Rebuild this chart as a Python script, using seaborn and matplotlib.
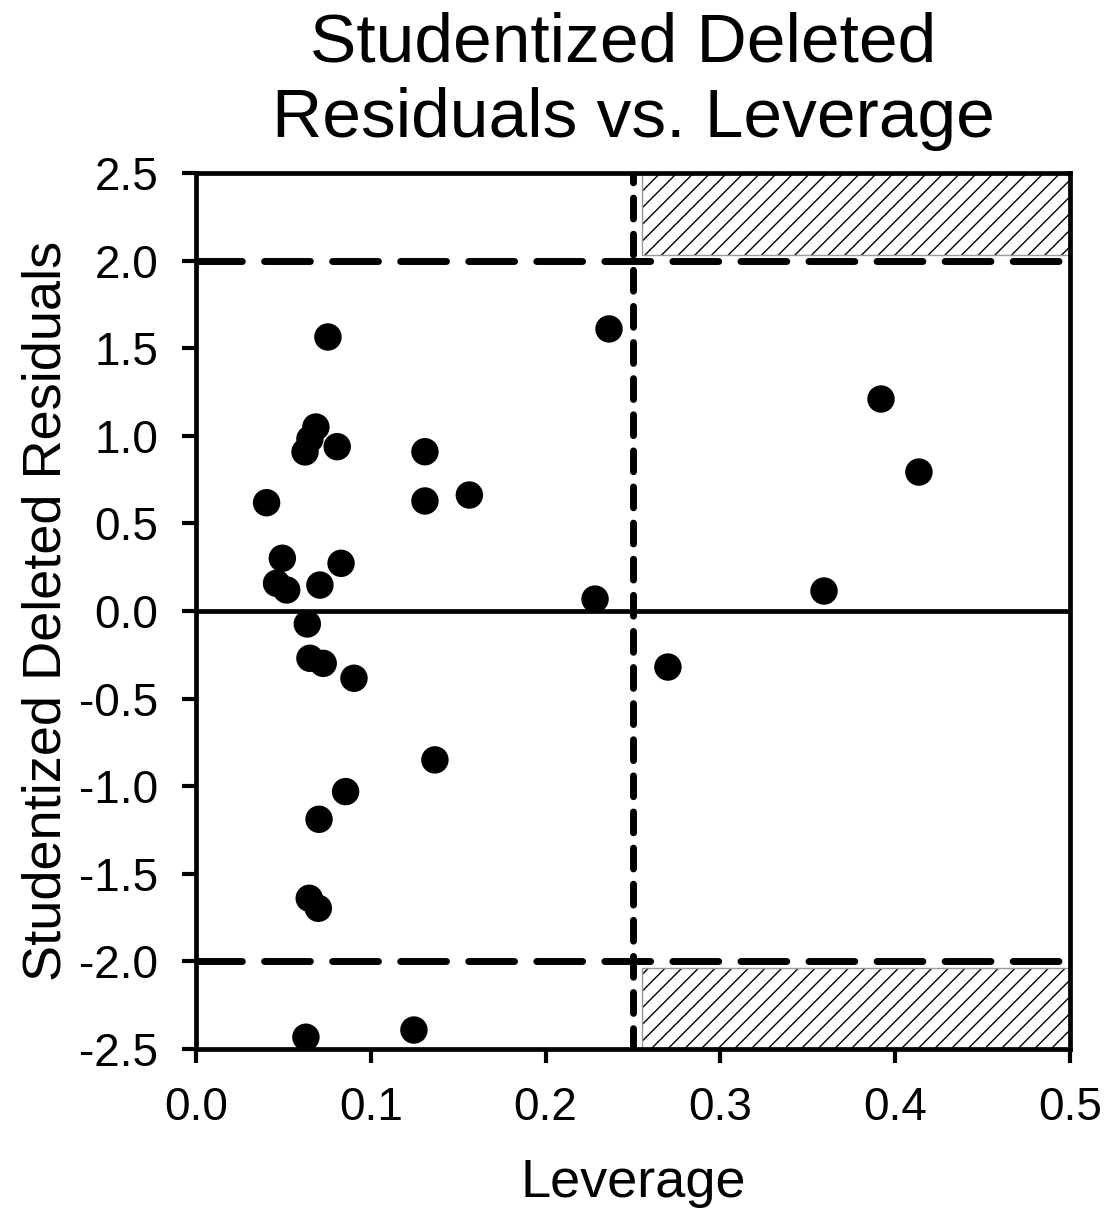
import matplotlib
matplotlib.use("Agg")
import matplotlib.pyplot as plt
import seaborn as sns
import pandas as pd

# Leverage (hat values) and studentized deleted residuals per observation
leverage = [
    0.0755, 0.0686, 0.0652, 0.0624, 0.0808, 0.1310, 0.0404, 0.1310, 0.1564,
    0.0494, 0.0830, 0.0461, 0.0519, 0.0709, 0.0637, 0.0652, 0.0728, 0.0904,
    0.1367, 0.0856, 0.0704, 0.0648, 0.0700, 0.0629, 0.1247, 0.2363, 0.2283,
    0.2700, 0.3919, 0.4136, 0.3593,
]
residuals = [
    1.564, 1.050, 0.982, 0.908, 0.938, 0.909, 0.618, 0.628, 0.662,
    0.301, 0.272, 0.158, 0.120, 0.148, -0.074, -0.270, -0.299, -0.384,
    -0.850, -1.031, -1.189, -1.640, -1.697, -2.433, -2.392, 1.610, 0.068,
    -0.320, 1.210, 0.793, 0.114,
]

# Reference cut-offs
leverage_cutoff = 0.25
residual_cutoff = 2.0

# Axis ticks
x_ticks = [0.0, 0.1, 0.2, 0.3, 0.4, 0.5]
x_tick_labels = ["0.0", "0.1", "0.2", "0.3", "0.4", "0.5"]
y_ticks = [2.5, 2.0, 1.5, 1.0, 0.5, 0.0, -0.5, -1.0, -1.5, -2.0, -2.5]
y_tick_labels = ["2.5", "2.0", "1.5", "1.0", "0.5", "0.0", "-0.5", "-1.0",
                 "-1.5", "-2.0", "-2.5"]

# Shaded zones of influential observations (high leverage and large residual)
zone_x = (0.255, 0.5)
zone_upper = (2.03, 2.5)
zone_lower = (-2.5, -2.04)

df = pd.DataFrame({"Leverage": leverage, "Residual": residuals})

sns.set_style("ticks")
plt.rcParams["font.family"] = ["Liberation Sans", "DejaVu Sans"]
plt.rcParams["text.color"] = "black"
plt.rcParams["axes.labelcolor"] = "black"
plt.rcParams["lines.scale_dashes"] = False
plt.rcParams["hatch.linewidth"] = 1.0

fig = plt.figure(figsize=(11.09, 12.21), dpi=100)
ax = fig.add_axes([0.1767, 0.1409, 0.9648 - 0.1767, 0.8583 - 0.1409])

# hatched zones
for lo, hi in (zone_upper, zone_lower):
    ax.fill_between(list(zone_x), lo, hi, facecolor="white", edgecolor="black",
                    hatch="//", linewidth=0, zorder=1)
    ax.fill_between(list(zone_x), lo, hi, facecolor="none", edgecolor="#999999",
                    linewidth=1.0, zorder=1.5)

# reference lines
ax.axhline(0.0, color="black", linewidth=3.4, zorder=2)
for yv in (residual_cutoff, -residual_cutoff):
    ax.axhline(yv, color="black", linewidth=5, dashes=(33, 16),
               dash_capstyle="round", zorder=2)
ax.axvline(leverage_cutoff, color="black", linewidth=5, dashes=(15, 11),
           dash_capstyle="round", zorder=2)

sns.scatterplot(data=df, x="Leverage", y="Residual", ax=ax, color="black",
                s=390, edgecolor="none", linewidth=0, zorder=3)

ax.set_xlim(0.0, 0.5)
ax.set_ylim(-2.5, 2.5)
ax.set_xticks(x_ticks)
ax.set_xticklabels(x_tick_labels)
ax.set_yticks(y_ticks)
ax.set_yticklabels(y_tick_labels)

for side in ("left", "right", "top", "bottom"):
    ax.spines[side].set_visible(True)
    ax.spines[side].set_linewidth(3.4)
    ax.spines[side].set_color("black")

ax.tick_params(axis="both", direction="out", length=10, width=3,
               labelsize=33, colors="black", top=False, right=False)
ax.tick_params(axis="x", pad=17)
ax.tick_params(axis="y", pad=17)

ax.set_xlabel("Leverage", fontsize=39, labelpad=20)
ax.set_ylabel("Studentized Deleted Residuals", fontsize=39, labelpad=6)
ax.set_title("Studentized Deleted \nResiduals vs. Leverage", fontsize=50,
             linespacing=1.22, pad=26)

fig.savefig("out.png", dpi=100, facecolor="white")
